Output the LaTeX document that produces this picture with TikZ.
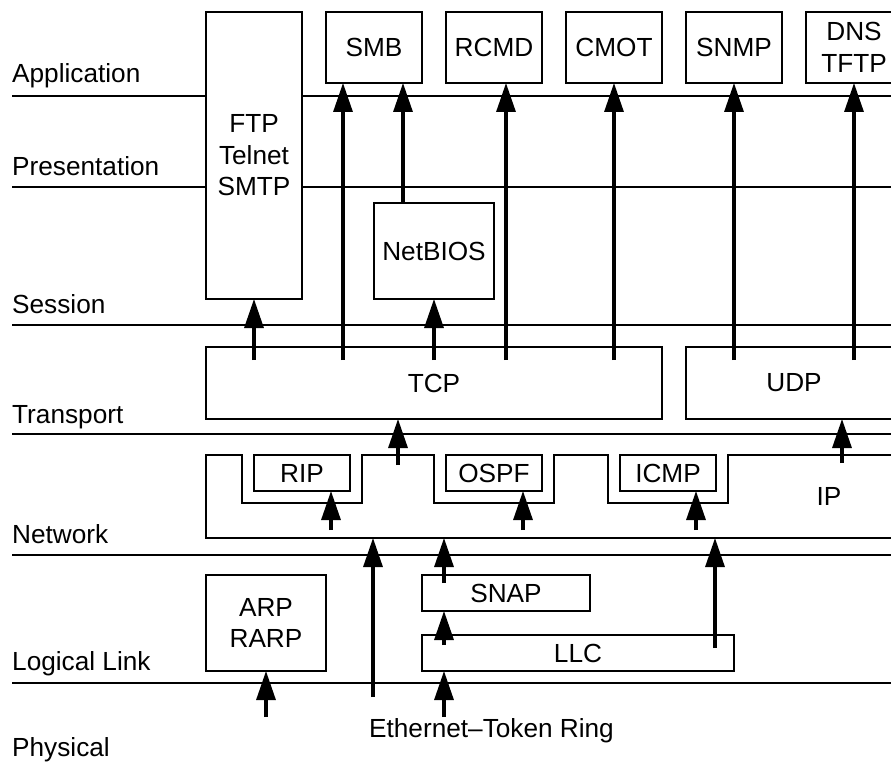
\documentclass[tikz,border=0pt]{standalone}
\usepackage{fontspec}
\setmainfont{Liberation Sans}
\usetikzlibrary{arrows.meta}

\begin{document}
\begin{tikzpicture}[x=1pt,y=-1pt,
  font=\fontsize{26.2}{31.5}\selectfont,
  layerline/.style={line width=1.6pt},
  box/.style={draw,line width=1.6pt,fill=white,inner sep=0pt,outer sep=0pt,align=center},
  layername/.style={inner sep=0pt,anchor=base west},
  up/.style={line width=3.2pt,-{Triangle[length=29pt,width=19pt]}},
]
\useasboundingbox (0,0) rectangle (891,762);
\clip (0,0) rectangle (891,762);

% layer separators
\draw[layerline] (12,96)  -- (891,96);
\draw[layerline] (12,187) -- (891,187);
\draw[layerline] (12,325) -- (891,325);
\draw[layerline] (12,434) -- (891,434);
\draw[layerline] (12,555) -- (891,555);
\draw[layerline] (12,683) -- (891,683);

% layer names
\node[layername] (lapp)  at (12,83)  {Application};
\node[layername] (lpres) at (12,176) {Presentation};
\node[layername] (lsess) at (12,313) {Session};
\node[layername] (ltran) at (12,423) {Transport};
\node[layername] (lnet)  at (12,543) {Network};
\node[layername] (llink) at (12,670) {Logical Link};
\node[layername] (lphys) at (12,756) {Physical};

% application protocols
\node[box,minimum width=96,minimum height=287] (ftp) at (254,155.5) {FTP\\Telnet\\SMTP};
\node[box,minimum width=96,minimum height=71] (smb)  at (374,47.5) {SMB};
\node[box,minimum width=96,minimum height=71] (rcmd) at (494,47.5) {RCMD};
\node[box,minimum width=96,minimum height=71] (cmot) at (614,47.5) {CMOT};
\node[box,minimum width=96,minimum height=71] (snmp) at (734,47.5) {SNMP};
\node[box,minimum width=96,minimum height=71] (dns)  at (854,47.5) {DNS\\TFTP};

% session and transport
\node[box,minimum width=120,minimum height=96] (netbios) at (434,251) {NetBIOS};
\node[box,minimum width=456,minimum height=72] (tcp) at (434,383) {TCP};
\node[box,minimum width=216,minimum height=72] (udp) at (794,383) {UDP};

% network layer: IP with notches holding the routing protocols
\node[inner sep=0pt,outer sep=0pt,minimum width=699,minimum height=83] (ipbox) at (555.5,496.5) {};
\draw[line width=1.6pt]
  (206,455) -- (242,455) -- (242,503) -- (362,503) -- (362,455)
  -- (434,455) -- (434,503) -- (554,503) -- (554,455)
  -- (608,455) -- (608,503) -- (728,503) -- (728,455)
  -- (905,455) -- (905,538) -- (206,538) -- cycle;
\node[inner sep=0pt] (iptext) at (829,496) {IP};
\node[box,minimum width=96,minimum height=36] (rip)  at (302,473) {RIP};
\node[box,minimum width=96,minimum height=36] (ospf) at (494,473) {OSPF};
\node[box,minimum width=96,minimum height=36] (icmp) at (668,473) {ICMP};

% link layer
\node[box,minimum width=120,minimum height=96] (arp) at (266,623) {ARP\\RARP};
\node[box,minimum width=168,minimum height=36] (snap) at (506,593) {SNAP};
\node[box,minimum width=312,minimum height=36] (llc) at (578,653) {LLC};

\node[inner sep=0pt,anchor=base] (eth) at (491.5,737) {Ethernet–Token Ring};

% arrows from TCP
\coordinate (t1) at (254,360);
\coordinate (t2) at (343,360);
\coordinate (t3) at (434,360);
\coordinate (t4) at (506,360);
\coordinate (t5) at (614,360);
\draw[up] (t1) -- (ftp.south);
\draw[up] (t2) -- (t2 |- smb.south);
\draw[up] (t3) -- (netbios.south);
\draw[up] (t4) -- (t4 |- rcmd.south);
\draw[up] (t5) -- (cmot.south);
% NetBIOS to SMB
\coordinate (nb) at (403,0);
\draw[up] (nb |- netbios.north) -- (nb |- smb.south);
% arrows from UDP
\coordinate (u1) at (734,360);
\coordinate (u2) at (854,360);
\draw[up] (u1) -- (snmp.south);
\draw[up] (u2) -- (dns.south);

% arrows from IP
\coordinate (i1) at (398,465);
\coordinate (i2) at (842,463);
\draw[up] (i1) -- (i1 |- tcp.south);
\draw[up] (i2) -- (i2 |- udp.south);
\coordinate (i3) at (331,530);
\coordinate (i4) at (523,530);
\coordinate (i5) at (696,530);
\draw[up] (i3) -- (i3 |- rip.south);
\draw[up] (i4) -- (i4 |- ospf.south);
\draw[up] (i5) -- (i5 |- icmp.south);

% arrows from the link layer
\coordinate (p1) at (373,697);
\coordinate (s1) at (444,583);
\coordinate (s2) at (444,645);
\coordinate (l1) at (715,648);
\draw[up] (p1) -- (p1 |- ipbox.south);
\draw[up] (s1) -- (s1 |- ipbox.south);
\draw[up] (s2) -- (s2 |- snap.south);
\draw[up] (l1) -- (l1 |- ipbox.south);

% arrows from the physical layer
\coordinate (b1) at (266,717);
\coordinate (b2) at (444,717);
\draw[up] (b1) -- (arp.south);
\draw[up] (b2) -- (b2 |- llc.south);
\end{tikzpicture}
\end{document}
